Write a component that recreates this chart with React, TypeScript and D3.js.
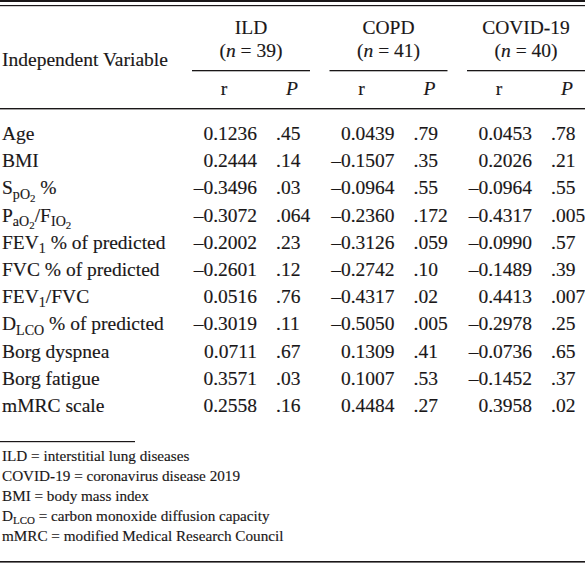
import React from "react";
import * as d3 from "d3";

// ---------- data ----------
const variables = [
  "Age",
  "BMI",
  "S_{pO_{2}} %",
  "P_{aO_{2}}/F_{IO_{2}}",
  "FEV_{1} % of predicted",
  "FVC % of predicted",
  "FEV_{1}/FVC",
  "D_{LCO} % of predicted",
  "Borg dyspnea",
  "Borg fatigue",
  "mMRC scale",
];
const groups = ["ILD", "COPD", "COVID-19"];
const groupN = [39, 41, 40];

const ildR = [0.1236, 0.2444, -0.3496, -0.3072, -0.2002, -0.2601, 0.0516, -0.3019, 0.0711, 0.3571, 0.2558];
const ildP = [".45", ".14", ".03", ".064", ".23", ".12", ".76", ".11", ".67", ".03", ".16"];
const copdR = [0.0439, -0.1507, -0.0964, -0.236, -0.3126, -0.2742, -0.4317, -0.505, 0.1309, 0.1007, 0.4484];
const copdP = [".79", ".35", ".55", ".172", ".059", ".10", ".02", ".005", ".41", ".53", ".27"];
const covidR = [0.0453, 0.2026, -0.0964, -0.4317, -0.099, -0.1489, 0.4413, -0.2978, -0.0736, -0.1452, 0.3958];
const covidP = [".78", ".21", ".55", ".005", ".57", ".39", ".007", ".25", ".65", ".37", ".02"];

const footnotes = [
  "ILD = interstitial lung diseases",
  "COVID-19 = coronavirus disease 2019",
  "BMI = body mass index",
  "D_{LCO} = carbon monoxide diffusion capacity",
  "mMRC = modified Medical Research Council",
];

const rValues = [ildR, copdR, covidR];
const pValues = [ildP, copdP, covidP];

// ---------- layout ----------
const W = 585;
const H = 564;
const FONT = "'Liberation Serif', 'Times New Roman', serif";
const FS = 19.5;
const FS_NOTE = 15.2;
const INK = "#1a1718";

type Seg = { t: string; lvl: number };
function parseMarkup(s: string, lvl = 0): Seg[] {
  const out: Seg[] = [];
  let buf = "";
  let i = 0;
  while (i < s.length) {
    if (s[i] === "_" && s[i + 1] === "{") {
      if (buf) out.push({ t: buf, lvl });
      buf = "";
      let depth = 1;
      let j = i + 2;
      while (j < s.length && depth > 0) {
        if (s[j] === "{") depth++;
        else if (s[j] === "}") depth--;
        j++;
      }
      out.push(...parseMarkup(s.slice(i + 2, j - 1), lvl + 1));
      i = j;
    } else {
      buf += s[i];
      i++;
    }
  }
  if (buf) out.push({ t: buf, lvl });
  return out;
}

function Rich({ text, x, y, fs }: { text: string; x: number; y: number; fs: number }) {
  const segs = parseMarkup(text);
  const sizes = [fs, fs * 0.72, fs * 0.56];
  const shifts = [0, fs * 0.22, fs * 0.38];
  let cur = 0;
  return (
    <text x={x} y={y} fontSize={fs}>
      {segs.map((s, k) => {
        const target = shifts[s.lvl];
        const dy = target - cur;
        cur = target;
        return (
          <tspan key={k} dy={dy} fontSize={sizes[s.lvl]}>
            {s.t}
          </tspan>
        );
      })}
    </text>
  );
}

const fmtR = (v: number) => (v < 0 ? "\u2013" : "") + d3.format(".4f")(Math.abs(v));

export default function App() {
  const x = d3.scaleBand<string>().domain(groups).range([192, W]).paddingInner(0.142).paddingOuter(0);
  const y = d3.scalePoint<string>().domain(variables).range([140, 412]);
  const yNote = d3.scalePoint<string>().domain(footnotes).range([461, 541]);

  const R_RIGHT = 65;
  const P_LEFT = 84;
  const R_HEAD = 32;
  const P_HEAD = 100;

  return (
    <svg
      width={W}
      height={H}
      style={{ position: "fixed", left: 0, top: 0, background: "#fff" }}
      fontFamily={FONT}
      fill={INK}
      stroke={INK}
      strokeWidth={0.15}
    >
      <rect width={W} height={H} fill="#fff" stroke="none" />
      {/* top double rule */}
      <g stroke="none">
        <rect x={0} y={0} width={W} height={2} fill={INK} />
        <rect x={0} y={5} width={W} height={1.2} fill={INK} />
      </g>

      {/* header */}
      <text x={2} y={66} fontSize={FS}>Independent Variable</text>
      {groups.map((g, i) => {
        const x0 = x(g)!;
        const cx = x0 + x.bandwidth() / 2;
        return (
          <g key={g}>
            <text x={cx} y={34} fontSize={FS} textAnchor="middle">{g}</text>
            <text x={cx} y={57} fontSize={FS} textAnchor="middle">
              (<tspan fontStyle="italic">n</tspan> = {groupN[i]})
            </text>
            <rect x={x0} y={70} width={x.bandwidth()} height={1.3} fill={INK} stroke="none" />
            <text x={x0 + R_HEAD} y={95} fontSize={FS} textAnchor="middle">r</text>
            <text x={x0 + P_HEAD} y={95} fontSize={FS} textAnchor="middle" fontStyle="italic">P</text>
          </g>
        );
      })}
      <rect x={0} y={108} width={W} height={1.4} fill={INK} stroke="none" />

      {/* body */}
      {variables.map((v, r) => (
        <g key={v}>
          <Rich text={v} x={2} y={y(v)!} fs={FS} />
          {groups.map((g, i) => (
            <g key={g}>
              <text x={x(g)! + R_RIGHT} y={y(v)!} fontSize={FS} textAnchor="end">
                {fmtR(rValues[i][r])}
              </text>
              <text x={x(g)! + P_LEFT} y={y(v)!} fontSize={FS}>
                {pValues[i][r]}
              </text>
            </g>
          ))}
        </g>
      ))}

      {/* footnotes */}
      <rect x={0} y={441} width={135} height={1.2} fill={INK} stroke="none" />
      {footnotes.map((f) => (
        <Rich key={f} text={f} x={2} y={yNote(f)!} fs={FS_NOTE} />
      ))}
      <rect x={0} y={561} width={W} height={1.6} fill={INK} stroke="none" />
    </svg>
  );
}
